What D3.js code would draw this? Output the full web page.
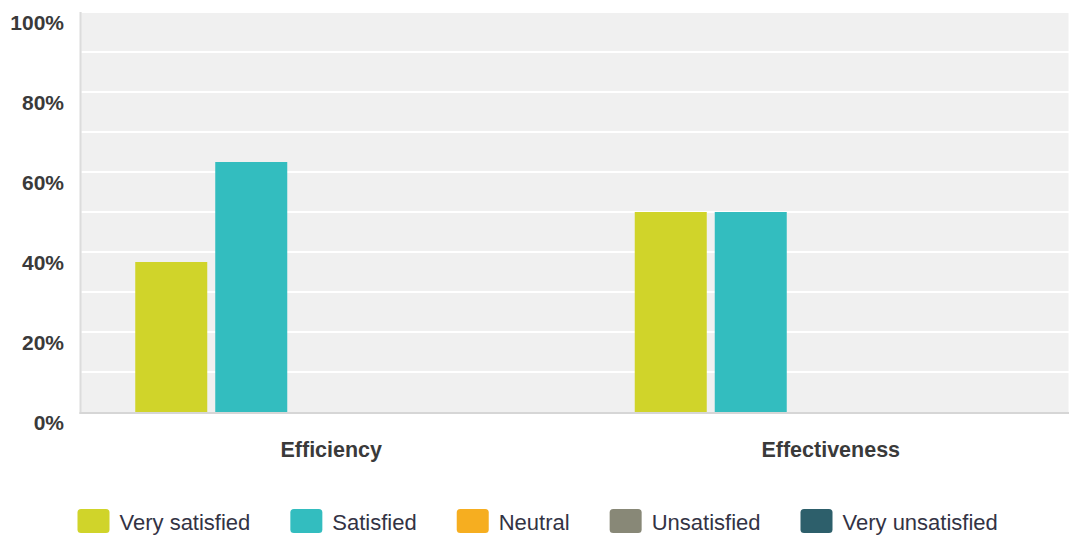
<!DOCTYPE html>
<html><head><meta charset="utf-8">
<script src="https://cdn.jsdelivr.net/npm/d3@7"></script>
<style>
html,body{margin:0;padding:0;background:#fff;overflow:hidden;}
svg{display:block;font-family:"Liberation Sans",Arial,sans-serif;}
</style></head>
<body>
<svg id="chart" width="1069" height="536"></svg>
<script>
const categories = ["Efficiency", "Effectiveness"];
const seriesNames = ["Very satisfied", "Satisfied", "Neutral", "Unsatisfied", "Very unsatisfied"];
const seriesColors = ["#d0d42a", "#33bdbf", "#f6ae20", "#888877", "#2d5f6b"];
const verySatisfied = [37.5, 50];
const satisfied = [62.5, 50];
const neutral = [0, 0];
const unsatisfied = [0, 0];
const veryUnsatisfied = [0, 0];
const yTicks = [0, 20, 40, 60, 80, 100];
const gridTicks = [10, 20, 30, 40, 50, 60, 70, 80, 90, 100];

const seriesValues = [verySatisfied, satisfied, neutral, unsatisfied, veryUnsatisfied];

const W = 1069, H = 536;
const svg = d3.select("#chart");
const plot = {left: 81.5, right: 1080.5, top: 12, bottom: 412};

const y = d3.scaleLinear().domain([0, 100]).range([plot.bottom, plot.top]);
const x0 = d3.scaleBand().domain(categories).range([plot.left, plot.right]).paddingInner(0).paddingOuter(0);
const groupW = 392;
const x1 = d3.scaleBand().domain(seriesNames)
  .range([(x0.bandwidth() - groupW) / 2, (x0.bandwidth() + groupW) / 2])
  .paddingInner(0.1).paddingOuter(0);
const color = d3.scaleOrdinal().domain(seriesNames).range(seriesColors);

// background
svg.append("rect").attr("x", plot.left - 0.5).attr("y", plot.top)
  .attr("width", W - plot.left).attr("height", plot.bottom - plot.top)
  .attr("fill", "#f0f0f0");

// gridlines
svg.append("g").selectAll("line").data(gridTicks).join("line")
  .attr("x1", plot.left).attr("x2", W)
  .attr("y1", d => y(d)).attr("y2", d => y(d))
  .attr("stroke", "#ffffff").attr("stroke-width", 2);

// bars
const data = categories.map((c, ci) => ({cat: c, vals: seriesNames.map((s, si) => ({s, v: seriesValues[si][ci]}))}));
svg.append("g").selectAll("g").data(data).join("g")
  .attr("transform", d => `translate(${x0(d.cat)},0)`)
  .selectAll("rect").data(d => d.vals.filter(e => e.v > 0)).join("rect")
  .attr("x", d => x1(d.s)).attr("width", x1.bandwidth())
  .attr("y", d => y(d.v)).attr("height", d => y(0) - y(d.v))
  .attr("fill", d => color(d.s));

// axis lines
svg.append("line").attr("x1", plot.left - 1).attr("x2", plot.left - 1)
  .attr("y1", plot.top).attr("y2", plot.bottom + 2)
  .attr("stroke", "#dcdcdc").attr("stroke-width", 2);
svg.append("line").attr("x1", plot.left - 2).attr("x2", W)
  .attr("y1", plot.bottom + 1).attr("y2", plot.bottom + 1)
  .attr("stroke", "#d6d6d6").attr("stroke-width", 2);

// y axis labels
const yAxis = d3.axisLeft(y).tickValues(yTicks).tickFormat(d => d + "%").tickSize(0).tickPadding(0);
const gy = svg.append("g").attr("transform", `translate(64,0)`).call(yAxis);
gy.select(".domain").remove();
gy.selectAll("text").attr("font-family", '"Liberation Sans",Arial,sans-serif')
  .attr("font-size", "21px").attr("font-weight", "bold").attr("fill", "#3a3a3a")
  .attr("dy", "0.32em").attr("y", 10.5);

// x axis labels
const xAxis = d3.axisBottom(x0).tickSize(0).tickPadding(0);
const gx = svg.append("g").attr("transform", `translate(0,${plot.bottom})`).call(xAxis);
gx.select(".domain").remove();
gx.selectAll("text").attr("font-family", '"Liberation Sans",Arial,sans-serif')
  .attr("font-size", "21.5px").attr("font-weight", "bold").attr("fill", "#3a3a3a")
  .attr("dy", 0).attr("y", 45);

// legend
const leg = svg.append("g");
let cx = 77.5;
seriesNames.forEach((s, i) => {
  const g = leg.append("g").attr("transform", `translate(${cx},0)`);
  g.append("rect").attr("x", 0).attr("y", 509).attr("width", 32).attr("height", 24)
    .attr("rx", 3.5).attr("fill", color(s));
  const t = g.append("text").attr("x", 42).attr("y", 530).text(s)
    .attr("font-size", "22px").attr("fill", "#333344");
  cx += 42 + t.node().getComputedTextLength() + 40;
});
</script>
</body></html>
